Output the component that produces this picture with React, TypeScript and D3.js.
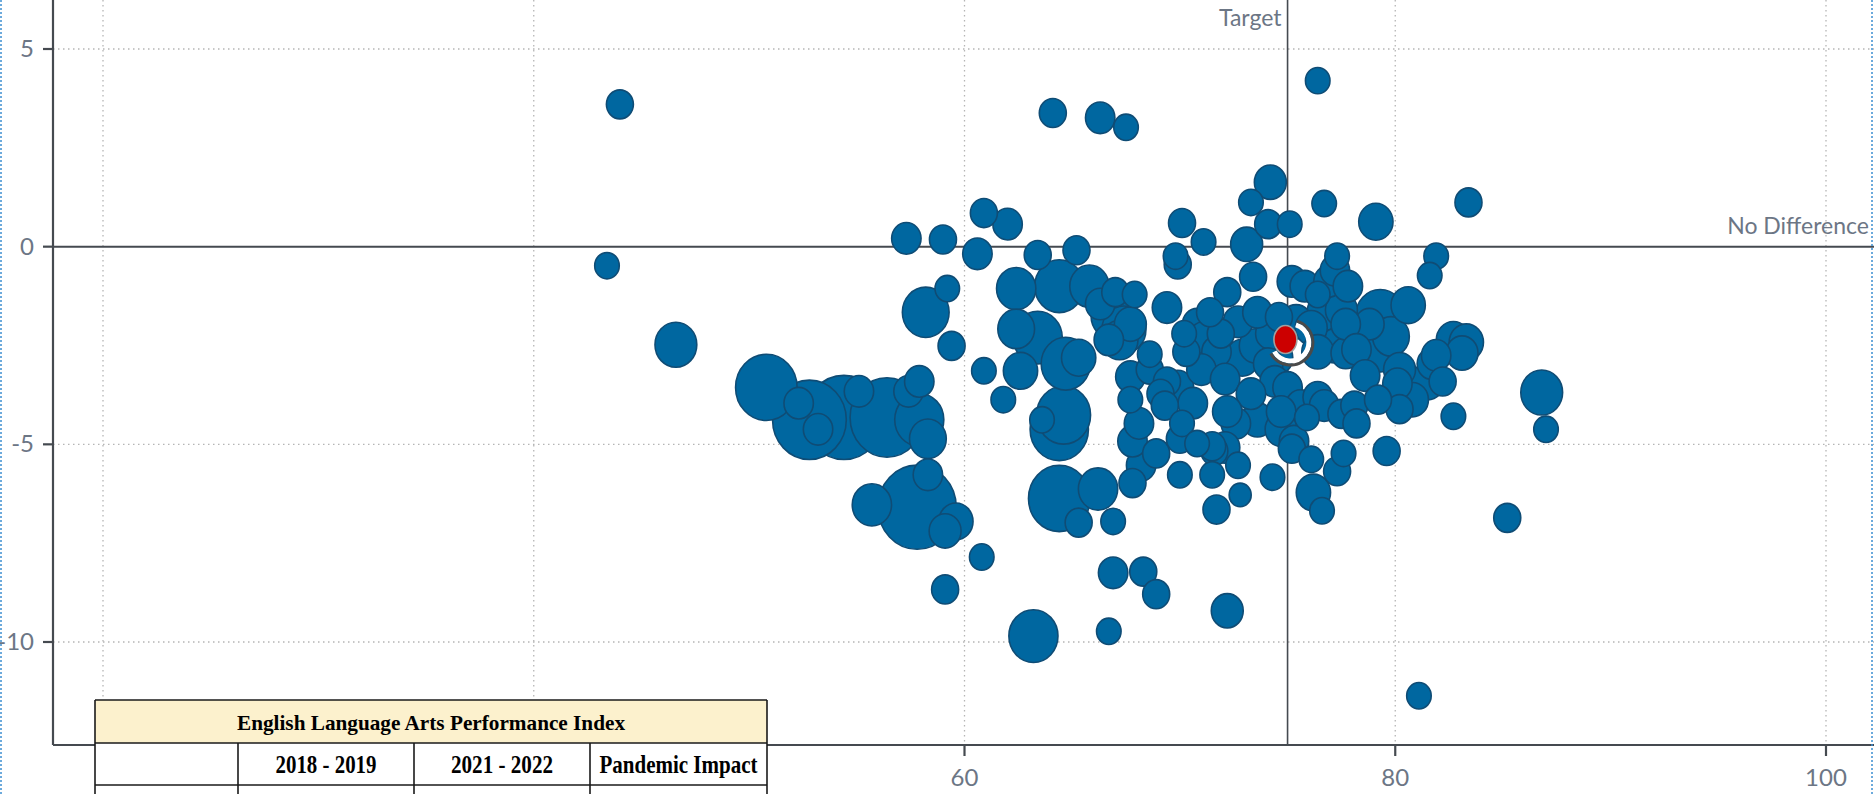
import React from 'react';
import * as d3 from 'd3';

const W = 1874;
const H = 794;

// 2021-2022 performance index (x), pandemic impact (y), enrollment (bubble size)
const perf2022 = [
  44.0, 43.4, 46.6, 50.8, 52.3, 52.8, 53.2, 54.4, 55.1, 56.4,
  57.4, 57.9, 57.9, 58.3, 57.8, 58.3, 55.7, 59.6, 59.1, 59.1,
  60.8, 57.3, 59.0, 59.2, 58.2, 59.4, 60.6, 60.9, 62.0, 60.9,
  61.8, 62.4, 62.4, 62.6, 63.4, 63.4, 64.1, 66.3, 67.5, 65.2,
  64.4, 65.8, 64.7, 65.3, 66.9, 67.7, 67.2, 66.3, 67.0, 67.9,
  66.7, 64.6, 64.4, 63.6, 64.4, 66.2, 66.9, 65.3, 67.8, 68.2,
  67.8, 68.1, 67.7, 68.6, 67.7, 66.9, 68.3, 68.9, 66.7, 63.2,
  69.4, 70.1, 69.8, 69.9, 71.1, 70.8, 72.2, 73.4, 74.2, 73.3,
  74.1, 73.1, 75.1, 76.7, 76.4, 79.1, 83.4, 81.9, 81.6, 75.2,
  75.8, 76.9, 77.3, 77.2, 77.8, 76.4, 77.5, 76.7, 75.4, 74.6,
  74.2, 72.7, 71.9, 71.1, 71.7, 70.3, 71.0, 72.1, 72.9, 73.5,
  74.1, 74.4, 73.3, 75.0, 75.6, 74.7, 73.6, 72.6, 72.2, 72.1,
  72.7, 71.6, 72.8, 71.7, 72.2, 74.3, 74.7, 75.3, 75.9, 75.2,
  76.1, 76.2, 76.6, 76.4, 76.7, 77.5, 77.3, 77.6, 77.7, 68.6,
  69.4, 69.1, 69.3, 69.9, 70.1, 70.6, 68.9, 70.0, 70.8, 71.5,
  70.0, 71.5, 79.3, 80.6, 78.8, 79.2, 79.8, 80.2, 80.1, 80.2,
  80.8, 81.5, 81.7, 82.2, 82.7, 83.3, 83.1, 81.9, 82.7, 79.6,
  78.1, 78.2, 77.7, 78.2, 77.2, 81.1, 85.2, 86.8, 87.0, 76.1,
  73.6, 76.4, 74.5, 71.4, 78.6, 79.2, 70.2, 67.4,
];

const pandemicImpact = [
  3.6, -0.48, -2.48, -3.56, -3.96, -4.38, -4.62, -4.32, -3.66, -4.32,
  -3.66, -3.41, -4.38, -4.86, -6.59, -5.77, -6.53, -6.95, -7.19, -8.67,
  -7.85, 0.21, 0.18, -1.06, -1.66, -2.51, -0.18, 0.85, 0.57, -3.14,
  -3.87, -1.06, -2.08, -3.14, -2.3, -0.21, 3.38, 3.26, 3.02, -0.09,
  -1.0, -1.0, -2.96, -2.81, -1.75, -1.96, -2.36, -1.45, -1.15, -1.21,
  -2.36, -4.26, -4.62, -4.38, -6.37, -6.13, -6.95, -6.98, -5.98, -5.53,
  -4.92, -4.47, -3.87, -2.72, -3.29, -8.25, -8.22, -8.79, -9.73, -9.85,
  -1.54, 0.6, -0.24, -0.45, 0.12, -1.96, -1.15, -0.76, 1.63, 1.12,
  0.57, 0.06, 0.57, 1.09, 4.2, 0.63, 1.12, -0.24, -0.73, -0.88,
  -1.0, -0.88, -0.24, -0.6, -1.0, -1.21, -1.6, -1.66, -1.9, -1.78,
  -2.2, -1.9, -2.2, -2.3, -2.66, -2.66, -3.11, -3.35, -2.81, -2.51,
  -2.96, -3.41, -3.72, -3.56, -4.02, -4.17, -4.38, -4.47, -4.17, -5.08,
  -5.53, -5.17, -6.28, -6.65, -9.21, -5.83, -4.62, -4.92, -4.32, -5.11,
  -5.38, -6.22, -6.68, -3.81, -4.02, -4.23, -5.68, -5.23, -2.69, -3.11,
  -3.41, -3.72, -4.02, -3.56, -4.47, -3.96, -5.23, -4.86, -4.98, -5.05,
  -5.77, -5.77, -1.75, -1.48, -1.96, -2.51, -2.27, -3.11, -3.47, -4.11,
  -3.87, -3.41, -2.96, -3.41, -2.36, -2.42, -2.69, -2.75, -4.29, -5.17,
  -4.02, -4.47, -1.96, -2.6, -2.51, -11.36, -6.86, -3.69, -4.62, -2.05,
  -1.66, -2.66, -2.81, -1.66, -3.26, -3.87, -2.2, -2.1,
];

const enrollment = [
  75, 62, 180, 390, 89, 560, 89, 630, 89, 560,
  89, 89, 248, 139, 630, 89, 159, 121, 105, 75,
  62, 89, 75, 62, 225, 75, 89, 75, 89, 62,
  62, 159, 139, 121, 248, 75, 75, 89, 62, 75,
  248, 159, 248, 121, 200, 105, 139, 89, 75, 62,
  89, 300, 350, 62, 390, 159, 62, 75, 75, 89,
  89, 89, 62, 62, 89, 89, 75, 75, 62, 248,
  89, 75, 62, 75, 62, 89, 75, 75, 105, 62,
  75, 105, 62, 62, 62, 121, 75, 62, 62, 89,
  89, 89, 62, 89, 89, 62, 105, 121, 105, 75,
  89, 89, 75, 89, 89, 75, 89, 89, 121, 105,
  89, 89, 89, 89, 89, 89, 105, 89, 89, 89,
  62, 75, 50, 75, 105, 62, 105, 89, 62, 75,
  62, 121, 62, 89, 89, 75, 75, 62, 89, 75,
  75, 75, 75, 105, 62, 89, 75, 75, 62, 75,
  62, 62, 248, 121, 89, 248, 139, 105, 89, 75,
  105, 121, 89, 75, 121, 121, 105, 89, 62, 75,
  75, 75, 89, 89, 105, 62, 75, 180, 62, 105,
  89, 105, 105, 75, 89, 75, 62, 200,
];

const stateAverage = [74.9, -2.35];
const targetValue = 75;
const xTicks = [20, 40, 60, 80, 100];
const xTickLabels = [60, 80, 100];
const yTicks = [5, 0, -5, -10];
const tableTitle = 'English Language Arts Performance Index';
const tableHeaders = ['', '2018 - 2019', '2021 - 2022', 'Pandemic Impact'];

const LEFT = 53;
const BOTTOM = 745;
const RIGHT = 1874;
const TOP = 0;

export default function App() {
  const x = d3.scaleLinear().domain([20, 100]).range([103, 1826]);
  const y = d3.scaleLinear().domain([5, -10]).range([49, 642]);
  const r = d3.scaleSqrt().domain([0, 1000]).range([0, 53]);

  const idx = d3.range(perf2022.length).sort((a, b) => enrollment[b] - enrollment[a]);

  const labelFont = 'Lato, "Open Sans", sans-serif';
  const labelColor = '#6c7685';

  const hx = x(stateAverage[0]) + 5;
  const hy = y(stateAverage[1]) + 3;
  const haloDark = d3.arc()({ innerRadius: 21, outerRadius: 24, startAngle: 0.3, endAngle: 4.2 }) as string;
  const haloWhite = d3.arc()({ innerRadius: 16, outerRadius: 21, startAngle: 0.3, endAngle: 4.2 }) as string;

  // table geometry
  const tX0 = 95, tX1 = 767, tY0 = 700, tY1 = 743, tY2 = 785;
  const cols = [95, 238, 414, 590, 767];
  const headerWidths = [0, 101, 102, 158];

  return (
    <svg width={W} height={H} style={{ position: 'absolute', left: 0, top: 0, background: '#fff' }}>
      <rect x={0} y={0} width={W} height={H} fill="#fff" />
      {/* grid */}
      {xTicks.map((t) => (
        <line key={'gx' + t} x1={x(t)} x2={x(t)} y1={TOP} y2={BOTTOM} stroke="#b5b5b5" strokeWidth={1.3} strokeDasharray="1.5,3.5" />
      ))}
      {yTicks.filter((t) => t !== 0).map((t) => (
        <line key={'gy' + t} x1={LEFT} x2={RIGHT} y1={y(t)} y2={y(t)} stroke="#b5b5b5" strokeWidth={1.3} strokeDasharray="1.5,3.5" />
      ))}
      {/* reference lines */}
      <line x1={LEFT} x2={RIGHT} y1={y(0)} y2={y(0)} stroke="#454a50" strokeWidth={2} />
      <line x1={x(targetValue)} x2={x(targetValue)} y1={TOP} y2={BOTTOM} stroke="#454a50" strokeWidth={1.6} />
      <text x={x(targetValue) - 6} y={26} textAnchor="end" fontFamily={labelFont} fontSize={23} fill={labelColor}>Target</text>
      <text x={1869} y={234} textAnchor="end" fontFamily={labelFont} fontSize={23} fill={labelColor}>No Difference</text>

      {/* bubbles */}
      {idx.map((i) => {
        const rr = r(enrollment[i]);
        return (
          <ellipse key={i} cx={x(perf2022[i])} cy={y(pandemicImpact[i])} rx={rr * 0.93} ry={rr}
            fill="#0067a0" stroke="#0f4c75" strokeWidth={1.6} />
        );
      })}
      {/* highlight halo + state average */}
      <g transform={`translate(${hx},${hy})`}>
        <path d={haloWhite} fill="#ffffff" />
        <path d={haloDark} fill="#4a4a4a" />
      </g>
      <ellipse cx={x(stateAverage[0])} cy={y(stateAverage[1])} rx={11.5} ry={14} fill="#cc0000" stroke="#a0a0a0" strokeWidth={1.6} />

      {/* axes */}
      <line x1={LEFT} x2={LEFT} y1={TOP} y2={BOTTOM} stroke="#454a50" strokeWidth={2.2} />
      <line x1={LEFT} x2={RIGHT} y1={BOTTOM} y2={BOTTOM} stroke="#454a50" strokeWidth={2.2} />
      {yTicks.map((t) => (
        <g key={'yt' + t}>
          <line x1={LEFT - 10} x2={LEFT} y1={y(t)} y2={y(t)} stroke="#454a50" strokeWidth={2.2} />
          <text x={LEFT - 19} y={y(t) + 8} textAnchor="end" fontFamily={labelFont} fontSize={24} fill={labelColor}>{t}</text>
        </g>
      ))}
      {xTicks.map((t) => (
        <line key={'xt' + t} x1={x(t)} x2={x(t)} y1={BOTTOM} y2={BOTTOM + 11} stroke="#454a50" strokeWidth={2.2} />
      ))}
      {xTickLabels.map((t) => (
        <text key={'xl' + t} x={x(t)} y={786} textAnchor="middle" fontFamily={labelFont} fontSize={24} fill={labelColor}>{t}</text>
      ))}

      {/* table */}
      <rect x={tX0} y={tY0} width={tX1 - tX0} height={H - tY0 + 5} fill="#ffffff" />
      <rect x={tX0} y={tY0} width={tX1 - tX0} height={tY1 - tY0} fill="#fcf1cd" />
      <g stroke="#1a1a1a" strokeWidth={1.6} fill="none">
        <line x1={tX0} x2={tX1} y1={tY0} y2={tY0} />
        <line x1={tX0} x2={tX1} y1={tY1} y2={tY1} />
        <line x1={tX0} x2={tX1} y1={tY2} y2={tY2} />
        <line x1={tX0} x2={tX0} y1={tY0} y2={H + 2} />
        <line x1={tX1} x2={tX1} y1={tY0} y2={H + 2} />
        {cols.slice(1, 4).map((c) => (
          <line key={'c' + c} x1={c} x2={c} y1={tY1} y2={H + 2} />
        ))}
      </g>
      <text x={(tX0 + tX1) / 2} y={730} textAnchor="middle" fontFamily='"Liberation Serif", "Times New Roman", serif'
        fontWeight="bold" fontSize={21} fill="#000" textLength={388} lengthAdjust="spacingAndGlyphs">{tableTitle}</text>
      {tableHeaders.map((h, i) => h ? (
        <text key={'h' + i} x={(cols[i] + cols[i + 1]) / 2} y={773} textAnchor="middle"
          fontFamily='"Liberation Serif", "Times New Roman", serif' fontWeight="bold" fontSize={26} fill="#000"
          textLength={headerWidths[i]} lengthAdjust="spacingAndGlyphs">{h}</text>
      ) : null)}

      {/* dotted selection border */}
      <line x1={1} x2={1} y1={0} y2={H} stroke="#3d8fd1" strokeWidth={1.5} strokeDasharray="2,2" />
      <line x1={1872} x2={1872} y1={0} y2={H} stroke="#3d8fd1" strokeWidth={1.5} strokeDasharray="2,2" />
    </svg>
  );
}
